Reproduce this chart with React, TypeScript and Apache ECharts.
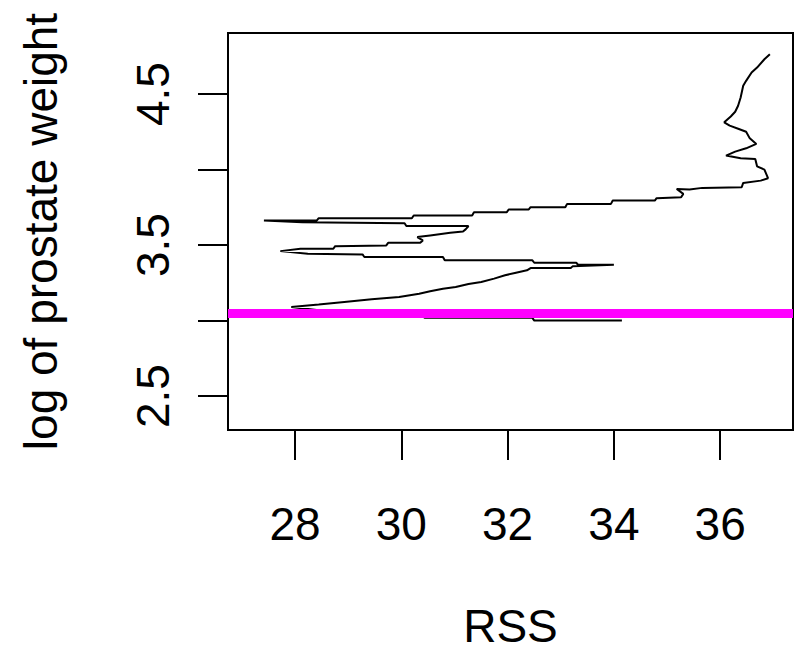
import React, { useEffect, useRef } from "react";
import * as echarts from "echarts";

// RSS path (x) and log of prostate weight (y)
const rss = [
  36.935, 36.832, 36.694, 36.591, 36.488, 36.433, 36.385, 36.337, 36.282, 36.199,
  36.076, 36.179, 36.351, 36.488, 36.557, 36.68, 36.488, 36.282, 36.11, 36.385,
  36.66, 36.694, 36.832, 36.9, 36.763, 36.433, 36.405, 35.663, 35.423, 35.182,
  35.306, 35.265, 34.804, 34.77, 33.979, 33.945, 33.12, 33.086, 32.433, 32.399,
  32.021, 31.986, 31.368, 31.333, 30.234, 30.199, 28.447, 28.412, 27.416, 28.137,
  30.062, 30.096, 31.265, 31.21, 31.162, 30.921, 30.543, 30.302, 30.405, 30.357,
  29.753, 29.718, 28.756, 28.722, 28.103, 27.725, 28.241, 29.271, 29.306, 30.784,
  30.818, 32.467, 32.502, 33.292, 33.326, 34.0, 33.223, 33.189, 32.433, 32.364,
  32.158, 31.952, 31.746, 31.505, 31.265, 31.024, 30.784, 30.543, 30.337, 29.959,
  29.443, 28.928, 28.447, 27.931, 28.447, 30.405, 30.44, 32.467, 32.502, 34.151,
];
const logWeight = [
  4.764, 4.731, 4.676, 4.643, 4.588, 4.555, 4.478, 4.423, 4.383, 4.352,
  4.313, 4.291, 4.269, 4.251, 4.207, 4.17, 4.141, 4.119, 4.093, 4.075,
  4.07, 4.022, 4.0, 3.943, 3.927, 3.912, 3.883, 3.879, 3.868, 3.872,
  3.839, 3.817, 3.811, 3.795, 3.795, 3.773, 3.773, 3.751, 3.751, 3.736,
  3.736, 3.718, 3.718, 3.696, 3.696, 3.678, 3.678, 3.663, 3.663, 3.652,
  3.645, 3.626, 3.626, 3.604, 3.59, 3.581, 3.564, 3.553, 3.531, 3.515,
  3.515, 3.498, 3.493, 3.476, 3.476, 3.46, 3.443, 3.438, 3.421, 3.421,
  3.399, 3.399, 3.383, 3.383, 3.37, 3.37, 3.359, 3.348, 3.348, 3.333,
  3.317, 3.3, 3.278, 3.256, 3.242, 3.222, 3.211, 3.194, 3.178, 3.156,
  3.141, 3.123, 3.106, 3.09, 3.068, 3.035, 3.018, 3.018, 3.0, 3.0,
];
const refLevel = 3.05;

const xTicks = [28, 30, 32, 34, 36];
const yTicks = [2.5, 3.0, 3.5, 4.0, 4.5];
const yLabels = [2.5, 3.5, 4.5];

const FONT = "'Liberation Sans', Arial, sans-serif";

export default function App() {
  const ref = useRef<HTMLDivElement>(null);
  useEffect(() => {
    if (!ref.current) return;
    const chart = echarts.init(ref.current, null, { renderer: "svg" });
    const data = rss.map((x, i) => [x, logWeight[i]]);
    chart.setOption({
      animation: false,
      backgroundColor: "#ffffff",
      grid: {
        left: 228,
        right: 2,
        top: 33,
        bottom: 223,
        show: true,
        borderColor: "#000",
        borderWidth: 2,
        backgroundColor: "transparent",
        containLabel: false,
        outerBoundsMode: "none",
      },
      xAxis: {
        type: "value",
        min: 26.74,
        max: 37.37,
        name: "RSS",
        nameLocation: "middle",
        nameGap: 173,
        nameTextStyle: { fontSize: 46, color: "#000", fontFamily: FONT },
        axisLine: { show: false },
        splitLine: { show: false },
        axisTick: {
          show: true,
          length: 30,
          inside: false,
          customValues: xTicks,
          lineStyle: { color: "#000", width: 2 },
        },
        axisLabel: {
          customValues: xTicks,
          margin: 71,
          fontSize: 46,
          color: "#000",
          fontFamily: FONT,
          formatter: (v: number) => String(v),
        },
      },
      yAxis: {
        type: "value",
        min: 2.275,
        max: 4.905,
        name: "log of prostate weight",
        nameLocation: "middle",
        nameGap: 164,
        nameTextStyle: { fontSize: 46, color: "#000", fontFamily: FONT },
        axisLine: { show: false },
        splitLine: { show: false },
        axisTick: {
          show: true,
          length: 30,
          inside: false,
          customValues: yTicks,
          lineStyle: { color: "#000", width: 2 },
        },
        axisLabel: {
          customValues: yLabels,
          rotate: 90,
          margin: 52,
          fontSize: 46,
          color: "#000",
          fontFamily: FONT,
          formatter: (v: number) => v.toFixed(1),
        },
      },
      series: [
        {
          type: "line",
          data,
          showSymbol: false,
          symbol: "none",
          lineStyle: { color: "#000", width: 2 },
          z: 2,
          markLine: {
            silent: true,
            symbol: "none",
            label: { show: false },
            lineStyle: { color: "#ff00ff", width: 9, type: "solid" },
            data: [{ yAxis: refLevel }],
            z: 5,
          },
        },
      ],
    });
    return () => chart.dispose();
  }, []);
  return (
    <div
      ref={ref}
      style={{ position: "fixed", left: 0, top: 0, width: 795, height: 653 }}
    />
  );
}
